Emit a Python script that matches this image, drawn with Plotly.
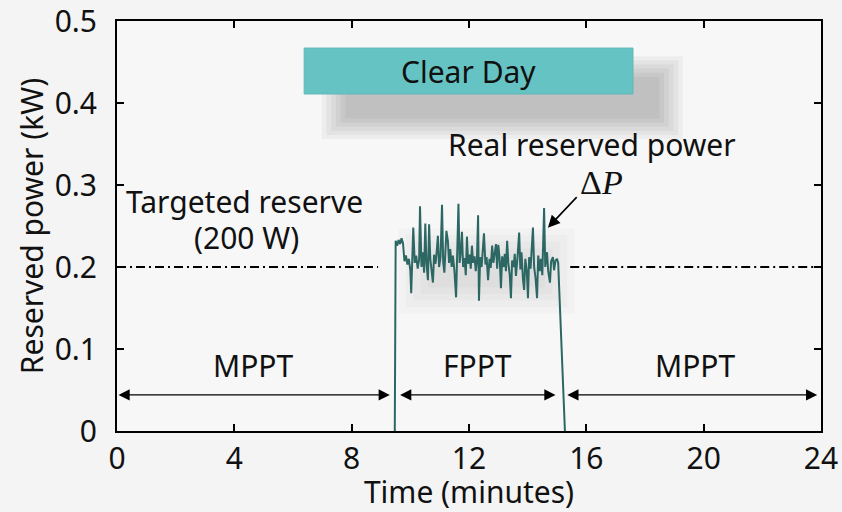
import plotly.graph_objects as go

# ---------------- data ----------------
time_min = [9.47, 9.50, 9.55, 9.60, 9.65, 9.70, 9.75, 9.80, 9.85, 9.90, 9.95, 10.00, 10.03, 10.07,
            10.10, 10.15, 10.20, 10.25, 10.30, 10.33, 10.38, 10.43, 10.47, 10.51, 10.55, 10.60,
            10.64, 10.68, 10.73, 10.77, 10.81, 10.86, 10.90, 10.94, 10.98, 11.03, 11.08, 11.12,
            11.16, 11.20, 11.23, 11.28, 11.32, 11.36, 11.41, 11.45, 11.50, 11.56, 11.60, 11.64,
            11.68, 11.72, 11.76, 11.80, 11.85, 11.89, 11.93, 11.97, 12.02, 12.06, 12.10, 12.14,
            12.19, 12.23, 12.27, 12.31, 12.34, 12.38, 12.43, 12.47, 12.51, 12.56, 12.60, 12.65,
            12.70, 12.74, 12.79, 12.83, 12.88, 12.92, 12.96, 13.00, 13.05, 13.09, 13.13, 13.18,
            13.22, 13.26, 13.30, 13.34, 13.39, 13.43, 13.47, 13.52, 13.56, 13.60, 13.65, 13.71,
            13.75, 13.79, 13.84, 13.88, 13.92, 13.97, 14.01, 14.05, 14.10, 14.14, 14.18, 14.22,
            14.27, 14.32, 14.36, 14.41, 14.45, 14.50, 14.56, 14.60, 14.66, 14.70, 14.76, 14.80,
            14.86, 14.90, 14.95, 15.00, 15.04, 15.27]
reserved_kw = [0.0, 0.232, 0.226, 0.233, 0.228, 0.235, 0.229, 0.207, 0.214, 0.203, 0.210, 0.196, 0.168, 0.212,
               0.248, 0.205, 0.214, 0.198, 0.209, 0.274, 0.200, 0.218, 0.193, 0.253, 0.205, 0.184,
               0.252, 0.210, 0.196, 0.181, 0.215, 0.204, 0.219, 0.238, 0.200, 0.212, 0.276, 0.206,
               0.193, 0.218, 0.244, 0.232, 0.205, 0.222, 0.200, 0.214, 0.197, 0.163, 0.215, 0.277,
               0.205, 0.218, 0.243, 0.200, 0.211, 0.190, 0.237, 0.204, 0.215, 0.198, 0.226, 0.205,
               0.213, 0.195, 0.208, 0.263, 0.159, 0.212, 0.200, 0.218, 0.241, 0.203, 0.212, 0.184,
               0.210, 0.199, 0.226, 0.205, 0.215, 0.228, 0.198, 0.227, 0.207, 0.174, 0.213, 0.200,
               0.216, 0.195, 0.232, 0.205, 0.190, 0.162, 0.208, 0.200, 0.216, 0.189, 0.210, 0.242,
               0.197, 0.218, 0.185, 0.172, 0.210, 0.195, 0.162, 0.212, 0.198, 0.220, 0.248, 0.200,
               0.186, 0.162, 0.214, 0.195, 0.210, 0.190, 0.272, 0.200, 0.218, 0.195, 0.181, 0.207,
               0.212, 0.196, 0.208, 0.210, 0.205, 0.0]

target_kw = 0.2
target_segments = [(0.0, 8.9), (15.45, 24.0)]

phase_labels = ["MPPT", "FPPT", "MPPT"]
phase_bounds = [(0.0, 9.3), (9.6, 14.95), (15.3, 23.87)]

x_ticks = [0, 4, 8, 12, 16, 20, 24]
y_ticks = [0, 0.1, 0.2, 0.3, 0.4, 0.5]
y_tick_text = ["0", "0.1", "0.2", "0.3", "0.4", "0.5"]

FONT = "Noto Sans"
FS = 30
LINE_COLOR = "#2c6764"

fig = go.Figure()

# --------- soft shadows (decoration) ---------
def soft_shadow(x0, x1, y0, y1, steps, dx, dy, alpha):
    for i in range(steps):
        fig.add_shape(type="rect", xref="x", yref="y", layer="below",
                      x0=x0 - dx * i, x1=x1 + dx * i, y0=y0 - dy * i, y1=y1 + dy * i,
                      fillcolor=f"rgba(0,0,0,{alpha})", line_width=0)

box_x0, box_x1, box_y0, box_y1 = 6.38, 17.59, 0.411, 0.467
soft_shadow(box_x0 + 1.4, box_x1 + 0.9, box_y0 - 0.030, box_y1 - 0.035, 6, 0.16, 0.005, 0.04)
soft_shadow(10.6, 14.6, 0.175, 0.215, 5, 0.25, 0.008, 0.018)

# dash-dot target lines
for (a, b) in target_segments:
    fig.add_trace(go.Scatter(x=[a, b], y=[target_kw, target_kw], mode="lines",
                             line=dict(color="black", width=1.8, dash="9px,4px,2px,4px"),
                             hoverinfo="skip", showlegend=False))

# real reserved power
fig.add_trace(go.Scatter(x=time_min, y=reserved_kw, mode="lines",
                         line=dict(color=LINE_COLOR, width=2), showlegend=False))

# Clear Day box
fig.add_shape(type="rect", xref="x", yref="y", x0=box_x0, x1=box_x1, y0=box_y0, y1=box_y1,
              fillcolor="#66c3c3", line=dict(color="#5fb8b8", width=1))

ann = []
ann.append(dict(x=(box_x0 + box_x1) / 2, y=(box_y0 + box_y1) / 2, xref="x", yref="y",
                text="Clear Day", showarrow=False, font=dict(size=FS, color="#111")))

# phase arrows and labels
arrow_y = 0.044
for lab, (a, b) in zip(phase_labels, phase_bounds):
    ann.append(dict(x=b, y=arrow_y, ax=a, ay=arrow_y, xref="x", yref="y", axref="x", ayref="y",
                    text="", showarrow=True, arrowhead=2, startarrowhead=2, arrowside="end+start",
                    arrowsize=1.6, startarrowsize=1.6, arrowwidth=1.4, arrowcolor="black"))
    ann.append(dict(x=(a + b) / 2 + (0.15 if lab == "MPPT" and a > 10 else 0), y=0.080, xref="x", yref="y",
                    text=lab, showarrow=False, font=dict(size=FS, color="#111")))

ann.append(dict(x=4.36, y=0.280, xref="x", yref="y", text="Targeted reserve",
                showarrow=False, font=dict(size=FS, color="#111")))
ann.append(dict(x=4.40, y=0.236, xref="x", yref="y", text="(200 W)",
                showarrow=False, font=dict(size=FS, color="#111")))
ann.append(dict(x=16.2, y=0.350, xref="x", yref="y", text="Real reserved power",
                showarrow=False, font=dict(size=FS, color="#111")))
ann.append(dict(x=16.5, y=0.303, xref="x", yref="y", text="Δ<i>P</i>",
                showarrow=False, font=dict(size=34, color="#111", family="Liberation Serif")))
ann.append(dict(x=14.69, y=0.248, ax=15.72, ay=0.287, xref="x", yref="y", axref="x", ayref="y",
                text="", showarrow=True, arrowhead=2, arrowsize=1.5, arrowwidth=1.6,
                arrowcolor="black"))

fig.update_layout(
    width=842, height=512,
    margin=dict(l=117, r=21, t=21, b=81),
    paper_bgcolor="#f4f4f4", plot_bgcolor="#f7f7f7",
    font=dict(family=FONT, size=FS, color="#111"),
    annotations=ann,
    showlegend=False,
)
fig.update_xaxes(range=[0, 24], tickvals=x_ticks, ticks="inside", ticklen=7, tickwidth=1.5,
                 tickcolor="black", showline=True, linecolor="black", linewidth=2, mirror="ticks",
                 showgrid=False, zeroline=False, ticklabelstandoff=0, automargin=False,
                 ticklabeloverflow="allow",
                 title=dict(text="Time (minutes)", standoff=11, font=dict(size=FS)),
                 tickfont=dict(size=FS))
fig.update_yaxes(range=[0, 0.5], tickvals=y_ticks, ticktext=y_tick_text, ticks="inside",
                 ticklen=7, tickwidth=1.5, tickcolor="black", showline=True, linecolor="black",
                 linewidth=2, mirror="ticks", showgrid=False, zeroline=False, ticklabelstandoff=12,
                 automargin=False, ticklabeloverflow="allow",
                 title=dict(text="Reserved power (kW)", standoff=2, font=dict(size=FS)),
                 tickfont=dict(size=FS))

fig.write_html("out.html")
